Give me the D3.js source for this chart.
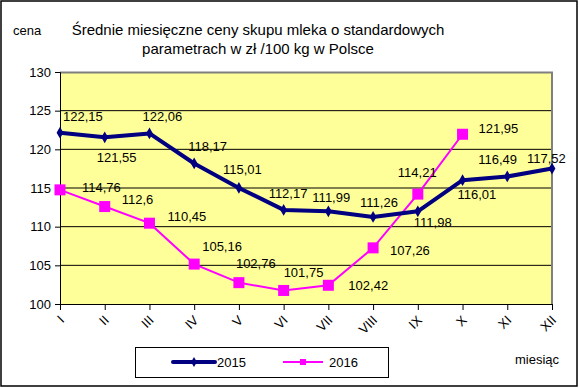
<!DOCTYPE html>
<html>
<head>
<meta charset="utf-8">
<script src="https://cdn.jsdelivr.net/npm/d3@7"></script>
<style>
  body { margin: 0; background: #fff; }
  text { font-family: "Liberation Sans", Arial, sans-serif; fill: #000; }
</style>
</head>
<body>
<div id="chart"></div>
<script>
// data
var months = ["I", "II", "III", "IV", "V", "VI", "VII", "VIII", "IX", "X", "XI", "XII"];
var values2015 = [122.15, 121.55, 122.06, 118.17, 115.01, 112.17, 111.99, 111.26, 111.98, 116.01, 116.49, 117.52];
var values2016 = [114.76, 112.6, 110.45, 105.16, 102.76, 101.75, 102.42, 107.26, 114.21, 121.95];
var yTicks = [100, 105, 110, 115, 120, 125, 130];

// hand-placed label offsets (like in the original excel chart)
var labelOff2015 = [[3, -12], [-8, 25], [-7, -12], [-6, -12], [-16, -14], [-15, -12], [-16, -9], [-13, -10], [-4, 16], [-5, 19], [-29, -12], [-25, -6]];
var labelOff2016 = [[22, 2], [17, -3], [18, -2], [8, -13], [-3, -15], [0, -13], [20, 5], [17, 7], [-20, -17], [16, -1]];

var svgWidth = 579;
var svgHeight = 388;

var margin = { top: 72, right: 26, bottom: 84, left: 60 };
var width = 552 - margin.left;
var height = 304 - margin.top;

var svg = d3.select("#chart")
    .append("svg")
    .attr("width", svgWidth)
    .attr("height", svgHeight);

// outer frame
svg.append("rect")
    .attr("x", 1).attr("y", 1)
    .attr("width", 576).attr("height", 385)
    .attr("fill", "none")
    .attr("stroke", "#000")
    .attr("stroke-width", 1.5);

var chartGroup = svg.append("g")
    .attr("transform", `translate(${margin.left}, ${margin.top})`);

var xScale = d3.scalePoint()
    .domain(months)
    .range([0, width]);

var yScale = d3.scaleLinear()
    .domain([100, 130])
    .range([height, 0]);

// plot background
chartGroup.append("rect")
    .attr("width", width)
    .attr("height", height)
    .attr("fill", "#FFFF99");

// gridlines
chartGroup.selectAll("line.grid")
    .data(yTicks.filter(t => t > 100 && t < 130))
    .enter()
    .append("line")
    .attr("x1", 0).attr("x2", width)
    .attr("y1", d => yScale(d)).attr("y2", d => yScale(d))
    .attr("stroke", "#000")
    .attr("stroke-width", 1);

// grey border top and right
chartGroup.append("path")
    .attr("d", `M0,0.5H${width}V${height}`)
    .attr("fill", "none")
    .attr("stroke", "#808080")
    .attr("stroke-width", 2);

// axes
var yAxis = d3.axisLeft(yScale).tickValues(yTicks).tickSize(5).tickPadding(4);
var xAxis = d3.axisBottom(xScale).tickSize(6).tickFormat("");

var yG = chartGroup.append("g").call(yAxis);
yG.selectAll("text").attr("font-size", "13px").attr("font-family", "Liberation Sans, Arial, sans-serif");

var xG = chartGroup.append("g")
    .attr("transform", `translate(0, ${height})`)
    .call(xAxis);

chartGroup.selectAll(".domain, .tick line").attr("stroke", "#000");

// rotated month labels
chartGroup.selectAll("text.month")
    .data(months)
    .enter()
    .append("text")
    .attr("class", "month")
    .attr("text-anchor", "end")
    .attr("font-size", "13px")
    .attr("transform", d => `translate(${xScale(d) + 5}, ${height + 17}) rotate(-45)`)
    .text(d => d);

// lines
var line = d3.line()
    .x((d, i) => xScale(months[i]))
    .y(d => yScale(d));

chartGroup.append("path")
    .datum(values2016)
    .attr("d", line)
    .attr("fill", "none")
    .attr("stroke", "#FF00FF")
    .attr("stroke-width", 2);

chartGroup.selectAll("rect.m16")
    .data(values2016)
    .enter()
    .append("rect")
    .attr("x", (d, i) => xScale(months[i]) - 5.5)
    .attr("y", d => yScale(d) - 5.5)
    .attr("width", 11).attr("height", 11)
    .attr("fill", "#FF00FF");

chartGroup.append("path")
    .datum(values2015)
    .attr("d", line)
    .attr("fill", "none")
    .attr("stroke", "#000080")
    .attr("stroke-width", 4)
    .attr("stroke-linejoin", "round");

chartGroup.selectAll("path.m15")
    .data(values2015)
    .enter()
    .append("path")
    .attr("d", d3.symbol().type(d3.symbolDiamond).size(40))
    .attr("transform", (d, i) => `translate(${xScale(months[i])}, ${yScale(d)})`)
    .attr("fill", "#000080");

// data labels
var fmt = d => String(d).replace(".", ",");

chartGroup.selectAll("text.l15")
    .data(values2015)
    .enter()
    .append("text")
    .attr("font-size", "13px")
    .attr("x", (d, i) => xScale(months[i]) + labelOff2015[i][0])
    .attr("y", (d, i) => yScale(d) + labelOff2015[i][1])
    .text(fmt);

chartGroup.selectAll("text.l16")
    .data(values2016)
    .enter()
    .append("text")
    .attr("font-size", "13px")
    .attr("x", (d, i) => xScale(months[i]) + labelOff2016[i][0])
    .attr("y", (d, i) => yScale(d) + labelOff2016[i][1])
    .text(fmt);

// title and axis names
svg.append("text")
    .attr("x", 258).attr("y", 35)
    .attr("text-anchor", "middle")
    .attr("font-size", "15px")
    .text("Średnie miesięczne ceny skupu mleka o standardowych");

svg.append("text")
    .attr("x", 258).attr("y", 54)
    .attr("text-anchor", "middle")
    .attr("font-size", "15px")
    .text("parametrach w zł /100 kg w Polsce");

svg.append("text")
    .attr("x", 13).attr("y", 35)
    .attr("font-size", "13px")
    .text("cena");

svg.append("text")
    .attr("x", 515).attr("y", 364)
    .attr("font-size", "13px")
    .text("miesiąc");

// legend
var legend = svg.append("g");
legend.append("rect")
    .attr("x", 135.5).attr("y", 347.5)
    .attr("width", 253).attr("height", 30)
    .attr("fill", "#fff")
    .attr("stroke", "#000");

legend.append("line")
    .attr("x1", 173).attr("x2", 215).attr("y1", 362).attr("y2", 362)
    .attr("stroke", "#000080").attr("stroke-width", 4).attr("stroke-linecap", "round");
legend.append("path")
    .attr("d", d3.symbol().type(d3.symbolDiamond).size(30))
    .attr("transform", "translate(194, 362)")
    .attr("fill", "#000080");
legend.append("text")
    .attr("x", 217).attr("y", 367)
    .attr("font-size", "13px")
    .text("2015");

legend.append("line")
    .attr("x1", 283).attr("x2", 323).attr("y1", 362).attr("y2", 362)
    .attr("stroke", "#FF00FF").attr("stroke-width", 2);
legend.append("rect")
    .attr("x", 300).attr("y", 359)
    .attr("width", 6).attr("height", 6)
    .attr("fill", "#FF00FF");
legend.append("text")
    .attr("x", 329).attr("y", 367)
    .attr("font-size", "13px")
    .text("2016");
</script>
</body>
</html>
